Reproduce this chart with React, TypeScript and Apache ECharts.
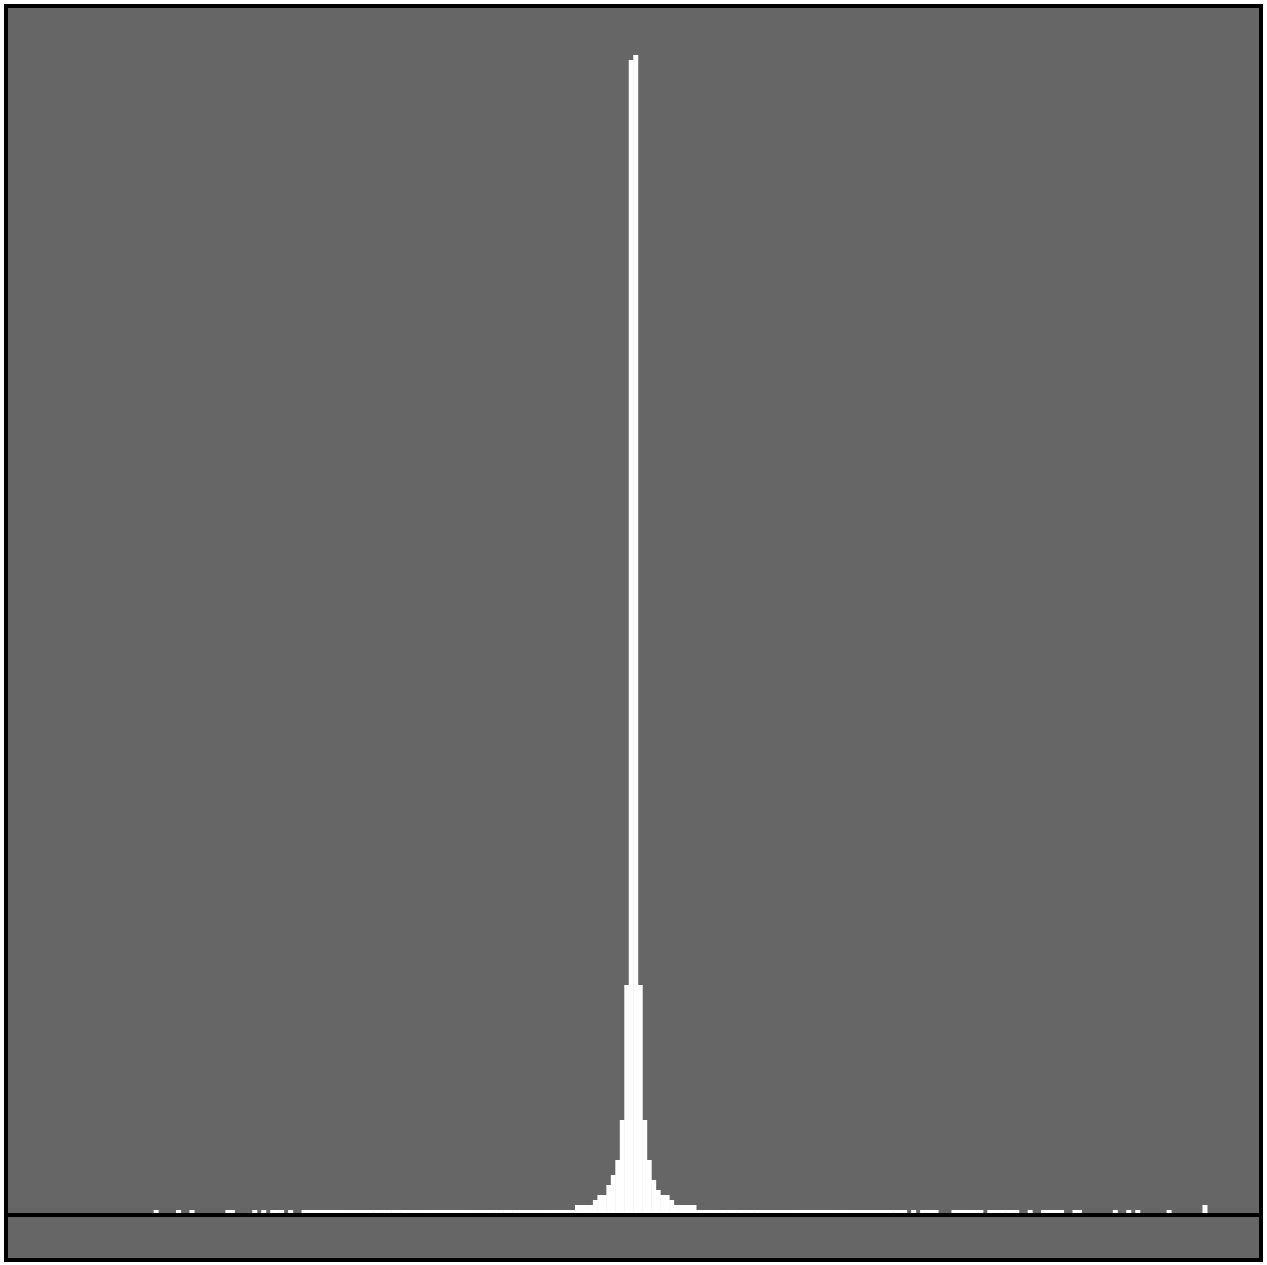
import React, { useEffect, useRef } from "react";
import * as echarts from "echarts";

// Histogram: 280 bins, sparse representation (bin index -> count)
const BIN_COUNT = 280;

// Sparse isolated bins on the left tail
const leftTailBins = [33, 38, 41, 49, 50, 55, 57, 59, 60, 61, 63, 66];
const leftTailCounts = [1, 1, 1, 1, 1, 1, 1, 1, 1, 1, 1, 1];

// Continuous low plateau (count 1) ranges
const plateauStart = [67, 154];
const plateauEnd = [126, 200];
const plateauCount = [1, 1];

// Central peak bins
const peakBins = [
  127, 128, 129, 130, 131, 132, 133, 134, 135, 136, 137, 138, 139, 140,
  141, 142, 143, 144, 145, 146, 147, 148, 149, 150, 151, 152, 153,
];
const peakCounts = [
  2, 2, 2, 2, 3, 4, 4, 6, 8, 11, 19, 46, 231, 232,
  46, 19, 11, 7, 5, 4, 4, 3, 2, 2, 2, 2, 2,
];

// Sparse isolated bins on the right tail
const rightTailBins = [
  202, 204, 205, 206, 207, 211, 212, 213, 214, 215, 216, 217, 219, 220, 221,
  222, 223, 224, 225, 228, 231, 232, 233, 234, 235, 238, 239, 247, 250, 252,
  259, 267,
];
const rightTailCounts = [
  1, 1, 1, 1, 1, 1, 1, 1, 1, 1, 1, 1, 1, 1, 1,
  1, 1, 1, 1, 1, 1, 1, 1, 1, 1, 1, 1, 1, 1, 1,
  1, 2,
];

const Y_MIN = -9;
const Y_MAX = 241.8;

function buildData(): number[] {
  const d = new Array(BIN_COUNT).fill(0);
  plateauStart.forEach((s, k) => {
    for (let i = s; i <= plateauEnd[k]; i++) d[i] = plateauCount[k];
  });
  leftTailBins.forEach((b, k) => (d[b] = leftTailCounts[k]));
  peakBins.forEach((b, k) => (d[b] = peakCounts[k]));
  rightTailBins.forEach((b, k) => (d[b] = rightTailCounts[k]));
  return d;
}

export default function App() {
  const ref = useRef<HTMLDivElement>(null);
  useEffect(() => {
    if (!ref.current) return;
    const chart = echarts.init(ref.current, undefined, { renderer: "svg" });
    const categories = Array.from({ length: BIN_COUNT }, (_, i) => String(i));
    chart.setOption({
      animation: false,
      backgroundColor: "#ffffff",
      grid: {
        left: 6,
        right: 6,
        top: 6,
        bottom: 5,
        show: true,
        backgroundColor: "#666666",
        borderColor: "#000000",
        borderWidth: 4,
      },
      xAxis: {
        type: "category",
        data: categories,
        boundaryGap: true,
        z: 10,
        axisLine: { show: true, onZero: true, lineStyle: { color: "#000000", width: 4 } },
        axisTick: { show: false },
        axisLabel: { show: false },
        splitLine: { show: false },
      },
      yAxis: {
        type: "value",
        min: Y_MIN,
        max: Y_MAX,
        axisLine: { show: false },
        axisTick: { show: false },
        axisLabel: { show: false },
        splitLine: { show: false },
      },
      series: [
        {
          type: "bar",
          data: buildData(),
          barWidth: 5,
          itemStyle: { color: "#ffffff" },
          silent: true,
        },
      ],
    });
    return () => chart.dispose();
  }, []);
  return (
    <div
      ref={ref}
      style={{ position: "absolute", left: 0, top: 0, width: 1267, height: 1265 }}
    />
  );
}
